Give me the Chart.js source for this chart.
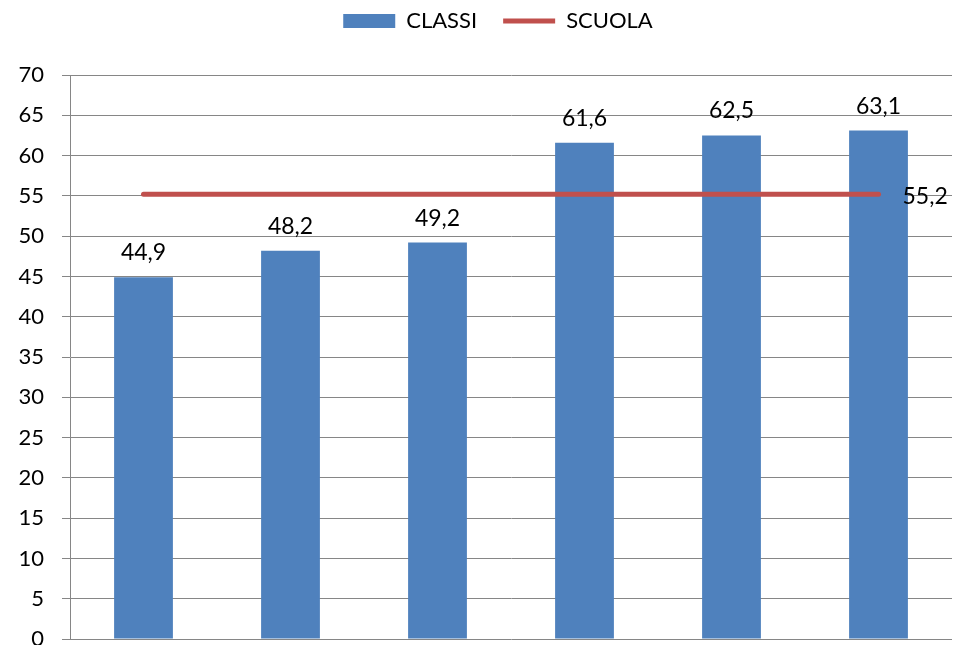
<!DOCTYPE html>
<html><head><meta charset="utf-8">
<script src="https://cdn.jsdelivr.net/npm/chart.js@4/dist/chart.umd.min.js"></script>
<style>html,body{margin:0;padding:0;background:#fff;overflow:hidden}
#wrap{position:relative;width:954px;height:645px;overflow:hidden;background:#fff}
</style></head><body>
<div id="wrap"><canvas id="c" width="954" height="700" style="width:954px;height:700px;display:block"></canvas></div>
<script>
const categories = ['1', '2', '3', '4', '5', '6'];
const classiValues = [44.9, 48.2, 49.2, 61.6, 62.5, 63.1];
const scuolaValues = [55.2, 55.2, 55.2, 55.2, 55.2, 55.2];
const seriesNames = ['CLASSI', 'SCUOLA'];
const yMin = 0, yMax = 70, yStep = 5;

const FONT = 'Lato, "Open Sans", sans-serif';
const fmt = v => v.toFixed(1).replace('.', ',');

const legendTweak = {
  id: 'legendTweak',
  afterInit(chart) {
    const lg = chart.legend;
    const fit = lg.fit;
    lg.fit = function () { fit.call(this); this.height = 75; };
    const draw = lg.draw;
    lg.draw = function () {
      const c = this.ctx; c.save(); c.translate(22, -16); draw.apply(this, arguments); c.restore();
    };
  }
};

const valueLabels = {
  id: 'valueLabels',
  afterDatasetsDraw(chart) {
    const ctx = chart.ctx;
    ctx.save();
    ctx.font = '23px ' + FONT;
    ctx.fillStyle = '#000';
    ctx.textBaseline = 'alphabetic';
    const mb = chart.getDatasetMeta(0);
    ctx.textAlign = 'center';
    mb.data.forEach((bar, i) => ctx.fillText(fmt(classiValues[i]), bar.x, bar.y - 17));
    const ml = chart.getDatasetMeta(1);
    const li = ml.data.length - 1;
    const p = ml.data[li];
    ctx.textAlign = 'left';
    ctx.fillText(fmt(scuolaValues[li]), p.x + 24, p.y + 10);
    ctx.restore();
  }
};

new Chart(document.getElementById('c'), {
  data: {
    labels: categories,
    datasets: [
      { type: 'bar', label: seriesNames[0], data: classiValues, backgroundColor: '#4F81BD', borderWidth: 0,
        categoryPercentage: 1, barPercentage: 0.4, pointStyle: 'rect', order: 1 },
      { type: 'line', label: seriesNames[1], data: scuolaValues, borderColor: '#C0504D', backgroundColor: '#C0504D',
        borderWidth: 5, borderCapStyle: 'round', pointRadius: 0, pointStyle: 'line', fill: false, order: 0 }
    ]
  },
  options: {
    responsive: false,
    animation: false,
    devicePixelRatio: 1,
    layout: { padding: { left: 0, right: 2, top: 0, bottom: 61 } },
    plugins: {
      tooltip: { enabled: false },
      legend: {
        position: 'top',
        labels: {
          usePointStyle: true, pointStyleWidth: 52, boxHeight: 14, padding: 26,
          color: '#000', font: { family: FONT, size: 22 },
          sort: (a, b) => a.datasetIndex - b.datasetIndex
        }
      }
    },
    scales: {
      x: { display: false },
      y: {
        min: yMin, max: yMax,
        ticks: { stepSize: yStep, padding: 18, color: '#000', font: { family: FONT, size: 22 } },
        grid: { color: '#868686', lineWidth: 1, tickLength: 8 },
        border: { color: '#868686', width: 1 },
        afterFit(s) { s.width = 70; }
      }
    }
  },
  plugins: [legendTweak, valueLabels]
});
</script>
</body></html>
